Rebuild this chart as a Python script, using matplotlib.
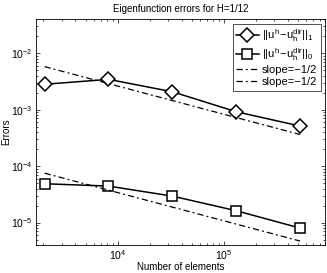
import matplotlib
matplotlib.use("Agg")
import matplotlib.pyplot as plt

plt.rcParams['font.family'] = ['Liberation Sans', 'DejaVu Sans']
plt.rcParams['mathtext.fontset'] = 'custom'
plt.rcParams['mathtext.rm'] = 'Liberation Sans'
plt.rcParams['mathtext.it'] = 'Liberation Sans'

# data
elements = [2048, 8192, 32768, 131072, 524288]
err_h1 = [2.82e-3, 3.45e-3, 2.08e-3, 9.2e-4, 5.13e-4]
err_l2 = [4.87e-5, 4.43e-5, 2.94e-5, 1.62e-5, 7.98e-6]
slope_x = [2048, 524288]
slope_upper = [5.8e-3, 3.63e-4]
slope_lower = [7.5e-5, 4.7e-6]

fig = plt.figure(figsize=(3.27, 2.73), dpi=100)
ax = fig.add_axes([36/327, 1 - 245/273, 289/327, 225.7/273])

ax.loglog(elements, err_h1, 'k-', marker='D', mfc='white', mec='k', ms=7.5, lw=1.1,
          mew=1.1, label=r'$||u^h\!-\!u_h^{dir}||_1$')
ax.loglog(elements, err_l2, 'k-', marker='s', mfc='white', mec='k', ms=6.5, lw=1.1,
          mew=1.1, label=r'$||u^h\!-\!u_h^{dir}||_0$')
ax.loglog(slope_x, slope_upper, 'k', lw=0.9, dashes=(5, 2.5, 1.5, 2.5), label='slope=\u22121/2')
ax.loglog(slope_x, slope_lower, 'k', lw=0.9, dashes=(5, 2.5, 1.5, 2.5), label='slope=\u22121/2')

ax.set_xlim(1.7e3, 9e5)
ax.set_ylim(4e-6, 4e-2)
ax.tick_params(which='both', direction='in', top=True, right=True, labelsize=7.5, width=0.5)
ax.tick_params(which='major', length=3, pad=2.5)
ax.tick_params(which='minor', length=1.5)
for s in ax.spines.values():
    s.set_linewidth(0.6)

ax.set_title('Eigenfunction errors for H=1/12', fontsize=7, pad=5)
ax.set_xlabel('Number of elements', fontsize=7, labelpad=0)
ax.set_ylabel('Errors', fontsize=7)
ax.yaxis.set_label_coords(-25/289, 0.5)

leg = ax.legend(loc='upper right', fontsize=8, fancybox=False, edgecolor='k',
                handlelength=2.0, handletextpad=0.3, borderpad=0.3, labelspacing=0.2,
                borderaxespad=0.4)
leg.get_frame().set_linewidth(0.6)

fig.savefig('out.png', dpi=100)
